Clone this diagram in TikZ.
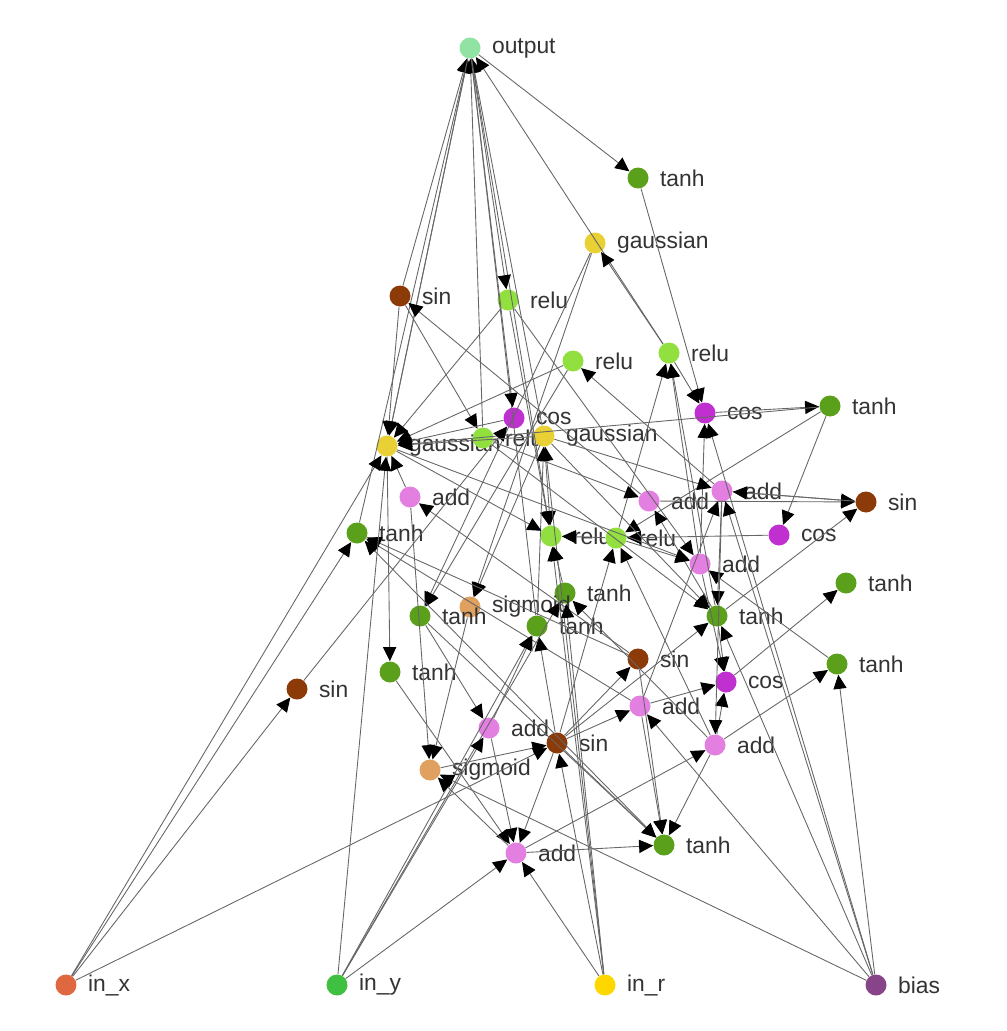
\documentclass[tikz,border=0pt]{standalone}
\usepackage{fontspec}
\setmainfont{Liberation Sans}
\usetikzlibrary{arrows.meta}

\definecolor{outc}{HTML}{90E3A2}
\definecolor{tanhc}{HTML}{5AA01A}
\definecolor{reluc}{HTML}{92E040}
\definecolor{gaussc}{HTML}{E8D035}
\definecolor{sinc}{HTML}{8B3A08}
\definecolor{cosc}{HTML}{C030D0}
\definecolor{addc}{HTML}{E27FE0}
\definecolor{sigc}{HTML}{E0A060}
\definecolor{inxc}{HTML}{E06840}
\definecolor{inyc}{HTML}{40C040}
\definecolor{inrc}{HTML}{FFD700}
\definecolor{biasc}{HTML}{884488}

\tikzset{
  fn/.style={circle, inner sep=0pt, minimum size=0.42cm},
  lbl/.style={font=\fontsize{13}{15}\selectfont, text=black!80, label distance=0.1cm},
  outn/.style={fn, fill=outc, label={[lbl]right:output}},
  tanhn/.style={fn, fill=tanhc, label={[lbl]right:tanh}},
  relun/.style={fn, fill=reluc, label={[lbl]right:relu}},
  gaussn/.style={fn, fill=gaussc, label={[lbl]right:gaussian}},
  sinn/.style={fn, fill=sinc, label={[lbl]right:sin}},
  cosn/.style={fn, fill=cosc, label={[lbl]right:cos}},
  addn/.style={fn, fill=addc, label={[lbl]right:add}},
  sign/.style={fn, fill=sigc, label={[lbl]right:sigmoid}},
  link/.style={draw=black!60, line width=0.5pt,
    -{Triangle[color=black, length=8pt, width=7.5pt]}}
}

\begin{document}
\begin{tikzpicture}[x=0.02cm, y=-0.02cm]
  \useasboundingbox (0,0) rectangle (1007,1031);

  % functions
  \node[outn] (out) at (470,48) {};
  \node[tanhn] (ta) at (638,178) {};
  \node[gaussn] (ga) at (595,243) {};
  \node[sinn] (sa) at (400,296) {};
  \node[relun] (ra) at (508,300) {};
  \node[relun] (rb) at (573,361) {};
  \node[relun] (rc) at (669,353) {};
  \node[cosn] (ca) at (514,418) {};
  \node[cosn] (cb) at (705,413) {};
  \node[tanhn] (tb) at (830,406) {};
  \node[gaussn] (gb) at (387,446) {};
  \node[relun] (rd) at (483,438) {};
  \node[gaussn] (gc) at (544,436) {};
  \node[addn] (aa) at (410,497) {};
  \node[addn] (ab) at (649,501) {};
  \node[addn] (ac) at (722,491) {};
  \node[sinn] (sb) at (866,502) {};
  \node[tanhn] (tc) at (357,533) {};
  \node[relun] (re) at (551,536) {};
  \node[relun] (rf) at (616,538) {};
  \node[cosn] (cc) at (779,535) {};
  \node[addn] (ad) at (700,564) {};
  \node[tanhn] (td) at (846,583) {};
  \node[tanhn] (te) at (565,593) {};
  \node[sign] (sga) at (470,607) {};
  \node[tanhn] (tf) at (420,616) {};
  \node[tanhn] (tg) at (537,626) {};
  \node[tanhn] (th) at (717,616) {};
  \node[sinn] (sc) at (638,659) {};
  \node[tanhn] (ti) at (390,672) {};
  \node[tanhn] (tj) at (837,664) {};
  \node[sinn] (sd) at (297,689) {};
  \node[cosn] (cd) at (726,682) {};
  \node[addn] (ae) at (640,706) {};
  \node[addn] (af) at (489,728) {};
  \node[sinn] (se) at (557,743) {};
  \node[addn] (ag) at (715,745) {};
  \node[sign] (sgb) at (430,770) {};
  \node[addn] (ah) at (516,853) {};
  \node[tanhn] (tk) at (664,845) {};

  % inputs
  \node[fn, fill=inxc, label={[lbl]right:in\_x}] (inx) at (66,985) {};
  \node[fn, fill=inyc, label={[lbl]right:in\_y}] (iny) at (337,985) {};
  \node[fn, fill=inrc, label={[lbl]right:in\_r}] (inr) at (605,985) {};
  \node[fn, fill=biasc, label={[lbl]right:bias}] (bias) at (876,985) {};

  \path[link]
    (gb) edge (out) (tc) edge (out) (sa) edge (out) (rd) edge (out)
    (re) edge (out) (tg) edge (out) (rc) edge (out) (gc) edge (out)
    (out) edge (ta) (out) edge (ra) (out) edge (ca) (out) edge (gb)
    (ta) edge (cb) (rc) edge (ga) (ga) edge (sga) (ga) edge (tf)
    (ra) edge (gb) (ra) edge (re) (ra) edge (ad)
    (rb) edge (gb) (rb) edge (tf) (ac) edge (rb)
    (rc) edge (cb) (rf) edge (rc) (th) edge (rc) (ad) edge (rc)
    (cb) edge (tb) (ad) edge (cb) (bias) edge (cb)
    (tb) edge (cc) (tb) edge (rf) (tb) edge (gb)
    (ac) edge (sb) (ab) edge (sb) (th) edge (sb) (sb) edge (ac)
    (cc) edge (rf)
    (sa) edge (rd) (sa) edge (gb) (ab) edge (sa)
    (ca) edge (gb) (sd) edge (ca)
    (rd) edge (ab) (rd) edge (th)
    (gc) edge (gb) (gc) edge (re) (gc) edge (ac) (gc) edge (sga) (gc) edge (th)
    (inr) edge (gc) (tg) edge (gc)
    (gb) edge (ti) (gb) edge (re) (gb) edge (ad)
    (sc) edge (aa) (aa) edge (sgb) (aa) edge (gb)
    (ae) edge (tc) (tk) edge (tc) (sc) edge (tc)
    (sga) edge (sgb) (tf) edge (af) (tf) edge (tk)
    (ti) edge (ah)
    (iny) edge (tg) (af) edge (tg) (se) edge (tg)
    (ag) edge (te) (te) edge (re) (rf) edge (re)
    (se) edge (rf) (ag) edge (rf) (th) edge (ab)
    (ae) edge (ac) (rf) edge (ad) (tj) edge (ad)
    (ac) edge (th) (se) edge (th)
    (se) edge (sc) (sc) edge (tk)
    (ad) edge (cd) (th) edge (cd) (ae) edge (cd) (ag) edge (cd) (ac) edge (ag)
    (cd) edge (td)
    (se) edge (ae) (ae) edge (tk)
    (ah) edge (ag) (ag) edge (tj) (ag) edge (tk)
    (sgb) edge (se) (se) edge (ah) (se) edge (tk)
    (ah) edge (tk) (ah) edge (sgb) (af) edge (ah)
    (inx) edge (gb) (inx) edge (tc) (inx) edge (sd) (inx) edge (se)
    (iny) edge (gb) (iny) edge (te) (iny) edge (af) (iny) edge (ah)
    (inr) edge (se) (inr) edge (re) (inr) edge (te) (inr) edge (ah)
    (bias) edge (tj) (bias) edge (ac) (bias) edge (th) (bias) edge (ae)
    (bias) edge (sgb);
\end{tikzpicture}
\end{document}
